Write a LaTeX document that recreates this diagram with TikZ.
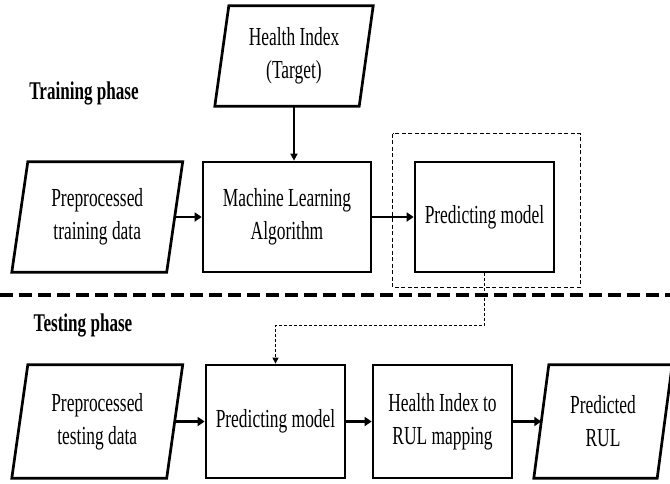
\documentclass[tikz,border=0pt]{standalone}
\usepackage{fontspec}
\setmainfont{Liberation Serif}[FakeStretch=0.67]
\usetikzlibrary{arrows.meta}
\begin{document}
\begin{tikzpicture}[x=1pt,y=-1pt,
  boxline/.style={draw, line width=2.7pt},
  txt/.style={inner sep=0pt, align=center, font=\fontsize{26}{33}\selectfont},
  box/.style={txt, boxline},
  para/.style={txt},
  phase/.style={inner sep=0pt, font=\fontsize{25.5}{30}\selectfont\bfseries},
  flow/.style={line width=2.6pt, -{Triangle[length=7pt,width=9pt]}},
  thinflow/.style={line width=1.6pt, -{Triangle[length=7pt,width=7pt]}},
  dashflow/.style={line width=0.8pt, dash pattern=on 3pt off 2pt, -{Triangle[length=6pt,width=6pt]}},
  frame/.style={line width=1pt, dash pattern=on 4pt off 2.5pt},
  divider/.style={line width=4pt, dash pattern=on 13pt off 6pt}
]
\useasboundingbox (0,0) rectangle (670,483);

% top row
\node[para, minimum width=144pt, minimum height=100pt] (hi) at (294,56) {Health Index\\(Target)};
\draw[boxline] ([xshift=7pt]hi.north west) -- ([xshift=7pt]hi.north east) -- ([xshift=-7pt]hi.south east) -- ([xshift=-7pt]hi.south west) -- cycle;

\node[phase] (trph) at (84,93) {Training phase};

\node[para, minimum width=154.5pt, minimum height=110pt] (tr) at (97.25,217) {Preprocessed\\training data};
\draw[boxline] ([xshift=8pt]tr.north west) -- ([xshift=8pt]tr.north east) -- ([xshift=-8pt]tr.south east) -- ([xshift=-8pt]tr.south west) -- cycle;

\node[box, minimum width=168pt, minimum height=110pt] (ml) at (287,217) {Machine Learning\\Algorithm};
\node[box, minimum width=139pt, minimum height=110pt] (pm1) at (484.5,217) {Predicting model};

\draw[frame] ([shift={(-21,-27)}]pm1.north west) rectangle ([shift={(25,14)}]pm1.south east);

\draw[thinflow] (hi.south) -- (hi.south |- ml.north);
\draw[flow] (tr.east) -- (ml.west);
\draw[flow] (ml.east) -- (pm1.west);

% divider
\coordinate (dl) at (0,295);
\coordinate (dr) at (670,295);
\draw[divider] (dl) -- (dr);

\node[phase] (teph) at (83,325) {Testing phase};

% bottom row
\node[para, minimum width=154.5pt, minimum height=113pt] (te) at (97.25,421.5) {Preprocessed\\testing data};
\draw[boxline] ([xshift=8pt]te.north west) -- ([xshift=8pt]te.north east) -- ([xshift=-8pt]te.south east) -- ([xshift=-8pt]te.south west) -- cycle;

\node[box, minimum width=139pt, minimum height=113pt] (pm2) at (275.5,421.5) {Predicting model};
\node[box, minimum width=139pt, minimum height=113pt] (map) at (442.5,421.5) {Health Index to\\RUL mapping};

\node[para, minimum width=123pt, minimum height=113pt] (rul) at (603,421.5) {Predicted\\RUL};
\draw[boxline] ([xshift=7.5pt]rul.north west) -- ([xshift=7.5pt]rul.north east) -- ([xshift=-7.5pt]rul.south east) -- ([xshift=-7.5pt]rul.south west) -- cycle;

\draw[dashflow] (pm1.south) -- ++(0,52) -| (pm2.north);
\draw[flow] (te.east) -- (pm2.west);
\draw[flow] (pm2.east) -- (map.west);
\draw[flow] (map.east) -- (rul.west);
\end{tikzpicture}
\end{document}
